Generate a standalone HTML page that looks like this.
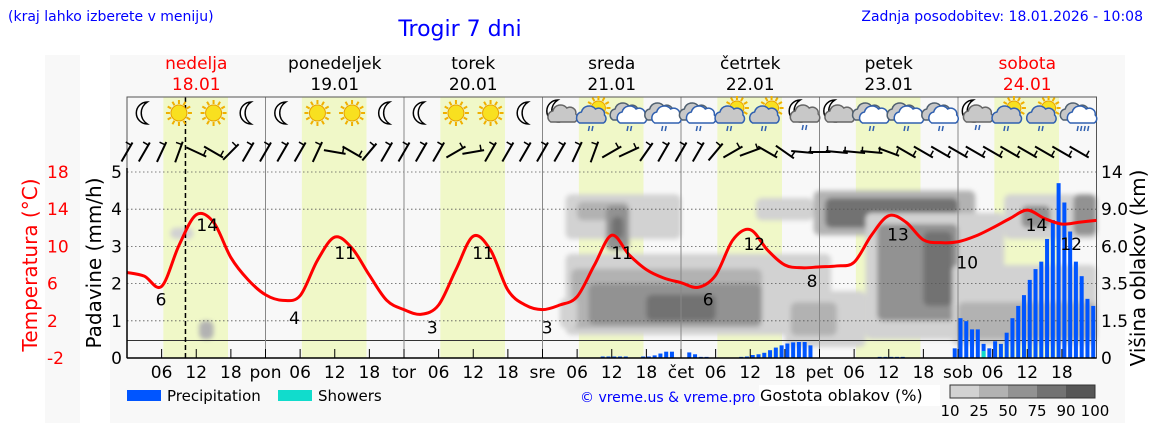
<!DOCTYPE html>
<html><head><meta charset="utf-8">
<style>
html,body{margin:0;padding:0;background:#fff;}
body{width:1152px;height:443px;overflow:hidden;font-family:"DejaVu Sans","Liberation Sans",sans-serif;}
svg text{font-family:"DejaVu Sans","Liberation Sans",sans-serif;}
</style></head>
<body>
<svg id="chart" width="1152" height="443" viewBox="0 0 1152 443" xmlns="http://www.w3.org/2000/svg">
<defs><filter id="blur" x="-20%" y="-20%" width="140%" height="140%"><feGaussianBlur stdDeviation="2.5"/></filter></defs>
<rect x="45" y="55" width="1080" height="368" fill="#f8f8f8"/>
<rect x="80" y="55" width="30" height="368" fill="#fff"/>
<text x="8" y="21" font-size="14" fill="#0000ff">(kraj lahko izberete v meniju)</text>
<text x="460" y="36" font-size="22" fill="#0000ff" text-anchor="middle">Trogir 7 dni</text>
<text x="1143" y="21" font-size="14" fill="#0000ff" text-anchor="end">Zadnja posodobitev: 18.01.2026 - 10:08</text>
<g id="bg"></g>
<g id="clouds" filter="url(#blur)"></g>
<g id="grid"></g>
<g id="bars"></g>
<g id="temp"></g>
<g id="icons"></g>
<g id="wind"></g>
<g id="axes"></g>
<g id="legend">
 <rect x="127" y="390" width="34" height="11" fill="#0055ff"/>
 <text x="167" y="401" font-size="15">Precipitation</text>
 <rect x="278" y="390" width="34" height="11" fill="#11dccc"/>
 <text x="318" y="401" font-size="15">Showers</text>
 <text x="580" y="402" font-size="14" fill="#0000ff">© vreme.us &amp; vreme.pro</text>
 <rect x="759" y="385" width="181" height="21" fill="#fff"/>
 <text x="760" y="401" font-size="16">Gostota oblakov (%)</text>
 <g id="cbar"></g>
</g>
</svg>
<script>
const NS='http://www.w3.org/2000/svg';
function mk(tag,attrs,parent,txt){const e=document.createElementNS(NS,tag);for(const k in attrs)e.setAttribute(k,attrs[k]);if(txt!==undefined)e.textContent=txt;parent.appendChild(e);return e;}
const $=id=>document.getElementById(id);

// ---- data ----
const dayNames=['nedelja','ponedeljek','torek','sreda','četrtek','petek','sobota'];
const dayDates=['18.01','19.01','20.01','21.01','22.01','23.01','24.01'];
const dayShort=['','pon','tor','sre','čet','pet','sob'];
const hourTicks=['06','12','18'];
const precipTickLabels=['0','1','2','3','4','5'];
const tempTickLabels=['-2','2','6','10','14','18'];
const cloudTickLabels=['0','1.5','3.5','6.0','9.0','14'];
const cbarLabels=['10','25','50','75','90','100'];
// temperature every 3 hours from 18.01 00:00
const temps=[7.2,6.8,5.7,10.1,13.4,12.6,8.8,6.4, 4.8,4.2,4.7,8.5,11,9.8,6.9,4.2, 3.2,2.7,3.7,7.5,11.1,9.6,5.3,3.7, 3.2,3.7,4.6,8,11.2,9.1,7.5,6.6, 6.1,5.6,6.9,10.7,11.8,9.6,8,7.7, 7.8,7.9,8.3,11.2,13.3,12.6,10.7,10.4, 10.5,11.1,12,13,13.9,13,12.4,12.6,12.8];
const tempLabelHours=[5.9,13.9,29,37.8,52.9,61.7,72.8,85.8,100.7,108.7,118.7,133.6,145.6,157.6,163.6];
const tempLabelValues=[6,14,4,11,3,11,3,11,6,12,8,13,10,14,12];
// hourly precipitation (mm/h)
const precipHours=[82,83,84,85,86,89,90,91,92,93,94,97,98,99,100,106,107,108,109,110,111,112,113,114,115,116,117,118,130,131,132,133,134,
143,144,145,146,147,148,149,150,151,152,153,154,155,156,157,158,159,160,161,162,163,164,165,166,167];
const precipValues=[0.04,0.04,0.04,0.04,0.04,0.04,0.04,0.07,0.12,0.17,0.17,0.15,0.1,0.03,0.03,0.03,0.04,0.08,0.1,0.14,0.21,0.28,0.34,0.39,0.42,0.43,0.43,0.34,0.03,0.03,0.03,0.03,0.03,
0.26,1.07,0.99,0.77,0.77,0.38,0.26,0.45,0.38,0.68,1.07,1.4,1.69,2.1,2.39,2.59,3.2,3.71,4.7,4.18,3.4,2.59,2.2,1.59,1.4];
const showerHours=[148];
const showerValues=[0.19];
// icons every 6h starting at 03:00
const iconTypes=['moon','sun','sun','moon','moon','sun','sun','moon','moon','sun','sun','moon',
'mooncloud','suncloudrain','cloudrain','cloudrain','cloudrain','suncloudrain','suncloudrain','mooncloudrain',
'mooncloud','cloudrain','cloudrain','cloudrain','mooncloudrain','suncloudrain','suncloudrain','cloudheavy'];
// wind shaft angle (deg from vertical) every 3h
const windAngles=[30,30,25,20,115,120,45,30, 30,30,30,25,100,120,40,30, 30,30,30,60,80,30,30,30, 30,30,25,20,60,65,35,30, 30,30,40,60,70,120,125,95, 90,95,95,95,110,120,120,120, 120,120,120,120,120,120,120,120];
// cloud density blobs: [startHour,endHour,lowPrecipUnit,highPrecipUnit,level]
const cloudBlobs=[
[76,122,0.62,2.8,1],[77,110,0.8,2.4,2],[80,110,0.9,2.0,3],[90,102,1.0,1.7,4],
[76,96,3.2,4.4,1],[78,87,3.7,4.2,2],[83,87,2.9,4.1,3],[84,86,3.2,3.8,4],
[109,119,3.7,4.3,1],[114,128,0.3,1.8,1],[115,123,0.6,1.5,2],
[119,147,3.3,4.5,2],[121,144,3.5,4.3,4],
[128,152,0.5,3.9,1],[130,144,1.0,3.6,3],[138,143,1.4,3.4,4],
[143,168,0.35,2.5,1],[144,168,0.5,1.5,2],
[152,168,3.2,4.4,1],[155,160,3.5,4.1,3],[164,168,3.3,4.4,3],
[7.5,11.5,3.2,3.5,1],[12.5,15,0.5,1.0,2],[75,78,0.8,1.6,1]];
const cloudColors=['#ffffff','#d2d2d2','#b2b2b2','#929292','#727272','#565656'];

// ---- scales ----
const X0=127, DAYW=138.5, X=h=>X0+h*DAYW/24;
const YP=u=>358-u*37.2;
const YT=t=>358-(t+2)*9.3;
const TOP=97, BOT=358, RIGHT=X(168);

// background & day bands
const bg=$('bg');
mk('rect',{x:X0,y:TOP,width:RIGHT-X0,height:BOT-TOP,fill:'#f8f8f8'},bg);
for(let d=0;d<7;d++){
  const r=mk('rect',{x:X(d*24+6.3),y:TOP,width:X(17.5)-X(6.3),height:BOT-TOP,fill:'#f0f8c8'},bg);
  
  
}
// clouds
const cg=$('clouds');
cloudBlobs.forEach(b=>{
  const r=mk('rect',{x:X(b[0]),y:YP(b[3]),width:X(b[1])-X(b[0]),height:YP(b[2])-YP(b[3]),rx:6,fill:cloudColors[b[4]]},cg);
  
  
});
// grid
const g=$('grid');
for(let i=1;i<=5;i++) mk('line',{x1:X0,x2:RIGHT,y1:YP(i),y2:YP(i),stroke:'#555','stroke-width':0.8,'stroke-dasharray':'1.5,2.5'},g);
mk('line',{x1:X0,x2:RIGHT,y1:340.5,y2:340.5,stroke:'#333','stroke-width':1},g);
for(let d=1;d<7;d++) mk('line',{x1:X(d*24),x2:X(d*24),y1:TOP,y2:BOT,stroke:'#888','stroke-width':1},g);
mk('line',{x1:X(10.13),x2:X(10.13),y1:TOP,y2:BOT,stroke:'#000','stroke-width':1.5,'stroke-dasharray':'5,3'},g);
mk('rect',{x:X0,y:TOP,width:RIGHT-X0,height:BOT-TOP,fill:'none',stroke:'#555','stroke-width':1},g);
// bars
const bars=$('bars');
precipHours.forEach((h,i)=>{
  const r=mk('rect',{x:X(h)+0.5,y:YP(precipValues[i]),width:4,height:YP(0)-YP(precipValues[i]),fill:'#0055ff'},bars);
  
  
});
showerHours.forEach((h,i)=>{
  const r=mk('rect',{x:X(h)+0.5,y:YP(showerValues[i]),width:4,height:YP(0)-YP(showerValues[i]),fill:'#11dccc'},bars);
  
  
});
// temperature
const tg=$('temp');
const pts=temps.map((t,i)=>[X(i*3),YT(t)]);
let d='M'+pts[0][0]+','+pts[0][1];
for(let i=0;i<pts.length-1;i++){
  const p0=pts[Math.max(0,i-1)],p1=pts[i],p2=pts[i+1],p3=pts[Math.min(pts.length-1,i+2)];
  const c1=[p1[0]+(p2[0]-p0[0])/6,p1[1]+(p2[1]-p0[1])/6],c2=[p2[0]-(p3[0]-p1[0])/6,p2[1]-(p3[1]-p1[1])/6];
  d+=' C'+c1.join(',')+' '+c2.join(',')+' '+p2.join(',');
}
const line=mk('path',{d:d,fill:'none',stroke:'#ff0000','stroke-width':3,'stroke-linejoin':'round'},tg);


tempLabelHours.forEach((h,i)=>{
  const t=mk('text',{x:X(h),y:YT(tempLabelValues[i])+22,'font-size':17,'text-anchor':'middle',fill:'#000'},tg,String(tempLabelValues[i]));
  
  
});
// icons
const ig=$('icons');
function sun(p,cx,cy,r){
  for(let k=0;k<12;k++){const a=k*Math.PI/6;mk('line',{x1:cx+Math.cos(a)*(r+1),y1:cy+Math.sin(a)*(r+1),x2:cx+Math.cos(a)*(r+5),y2:cy+Math.sin(a)*(r+5),stroke:'#f0b000','stroke-width':2},p);}
  mk('circle',{cx:cx,cy:cy,r:r,fill:'#f8e020',stroke:'#e8a000','stroke-width':1},p);
}
function moon(p,cx,cy){mk('path',{d:`M${cx+3},${cy-11} A11,11 0 1 0 ${cx+3},${cy+11} A13,13 0 0 1 ${cx+3},${cy-11}Z`,fill:'#fff',stroke:'#000','stroke-width':1.5},p);}
function cloud(p,cx,cy,fill,stroke){mk('path',{d:`M${cx-12},${cy+7} a6,6 0 0 1 2,-11 a8,8 0 0 1 14,-3 a6,6 0 0 1 9,6 a5,5 0 0 1 -1,8 Z`,fill:fill,stroke:stroke,'stroke-width':1.5},p);}
function rain(p,cx,cy,n){for(let k=0;k<n;k++)mk('line',{x1:cx-3+k*3.5,y1:cy+10,x2:cx-4+k*3.5,y2:cy+15,stroke:'#3060b0','stroke-width':1.5},p);}
iconTypes.forEach((t,i)=>{
  const cx=X(3+i*6),cy=113;
  const grp=mk('g',{},ig);
  
  
  if(t==='sun')sun(grp,cx,cy,8);
  else if(t==='moon')moon(grp,cx,cy);
  else if(t==='mooncloud'||t==='mooncloudrain'){moon(grp,cx-5,cy-2);cloud(grp,cx+3,cy+2,'#c8c8c8','#666');if(t==='mooncloudrain')rain(grp,cx+4,cy+2,2);}
  else if(t==='suncloudrain'){sun(grp,cx+4,cy-5,7);cloud(grp,cx-3,cy+3,'#c8c8c8','#3060b0');rain(grp,cx-2,cy+3,2);}
  else {cloud(grp,cx-4,cy,'#c8c8c8','#506070');cloud(grp,cx+3,cy+3,'#fff','#3060b0');rain(grp,cx+2,cy+3,t==='cloudheavy'?4:2);}
});
// wind
const wg=$('wind');
windAngles.forEach((a,i)=>{
  const cx=X(i*3),cy=152;
  const grp=mk('g',{transform:`rotate(${a} ${cx} ${cy})`},wg);
  
  
  mk('line',{x1:cx,y1:cy-11,x2:cx,y2:cy+11,stroke:'#000','stroke-width':2},grp);
  mk('line',{x1:cx,y1:cy-8,x2:cx-6,y2:cy-8,stroke:'#000','stroke-width':1.5},grp);
});
// axes & labels
const ax=$('axes');
for(let i=0;i<6;i++){
  mk('text',{x:122,y:YP(i)+6,'font-size':17,'text-anchor':'end'},ax,precipTickLabels[i]);
  mk('text',{x:47,y:YP(i)+6,'font-size':17,fill:'#ff0000'},ax,tempTickLabels[i]);
  mk('text',{x:1101,y:YP(i)+6,'font-size':17},ax,cloudTickLabels[i]);
}
let t1=mk('text',{x:0,y:0,'font-size':20,fill:'#ff0000','text-anchor':'middle',transform:'translate(37,265) rotate(-90)'},ax,'Temperatura (°C)');

let t2=mk('text',{x:0,y:0,'font-size':20,'text-anchor':'middle',transform:'translate(101,263) rotate(-90)'},ax,'Padavine (mm/h)');

let t3=mk('text',{x:0,y:0,'font-size':20,'text-anchor':'middle',transform:'translate(1145,268) rotate(-90)'},ax,'Višina oblakov (km)');

for(let dd=0;dd<7;dd++){
  const cxd=X(dd*24+12);
  const col=(dd===0||dd===6)?'#ff0000':'#000';
  let n=mk('text',{x:cxd,y:69,'font-size':17,'text-anchor':'middle',fill:col},ax,dayNames[dd]);
  
  let dt=mk('text',{x:cxd,y:90,'font-size':17,'text-anchor':'middle',fill:col},ax,dayDates[dd]);
  
  if(dd>0) mk('text',{x:X(dd*24),y:378,'font-size':17,'text-anchor':'middle'},ax,dayShort[dd]);
  hourTicks.forEach((h,k)=>{mk('text',{x:X(dd*24+(k+1)*6),y:378,'font-size':17,'text-anchor':'middle'},ax,h);});
  for(let k=0;k<4;k++) mk('line',{x1:X(dd*24+k*6),x2:X(dd*24+k*6),y1:349,y2:358,stroke:'#000','stroke-width':1},ax);
}
mk('line',{x1:X0,x2:X0,y1:168,y2:BOT,stroke:'#000','stroke-width':1.5},ax);
mk('line',{x1:X0,x2:RIGHT,y1:BOT,y2:BOT,stroke:'#000','stroke-width':1.5},ax);
// colorbar
const cb=$('cbar');
for(let i=0;i<5;i++) mk('rect',{x:950+i*29,y:385,width:29,height:13,fill:cloudColors[i+1]},cb);
mk('rect',{x:950,y:385,width:145,height:13,fill:'none',stroke:'#333','stroke-width':1},cb);
cbarLabels.forEach((l,i)=>mk('text',{x:950+i*29,y:416,'font-size':15,'text-anchor':'middle'},cb,l));
</script>
</body></html>
